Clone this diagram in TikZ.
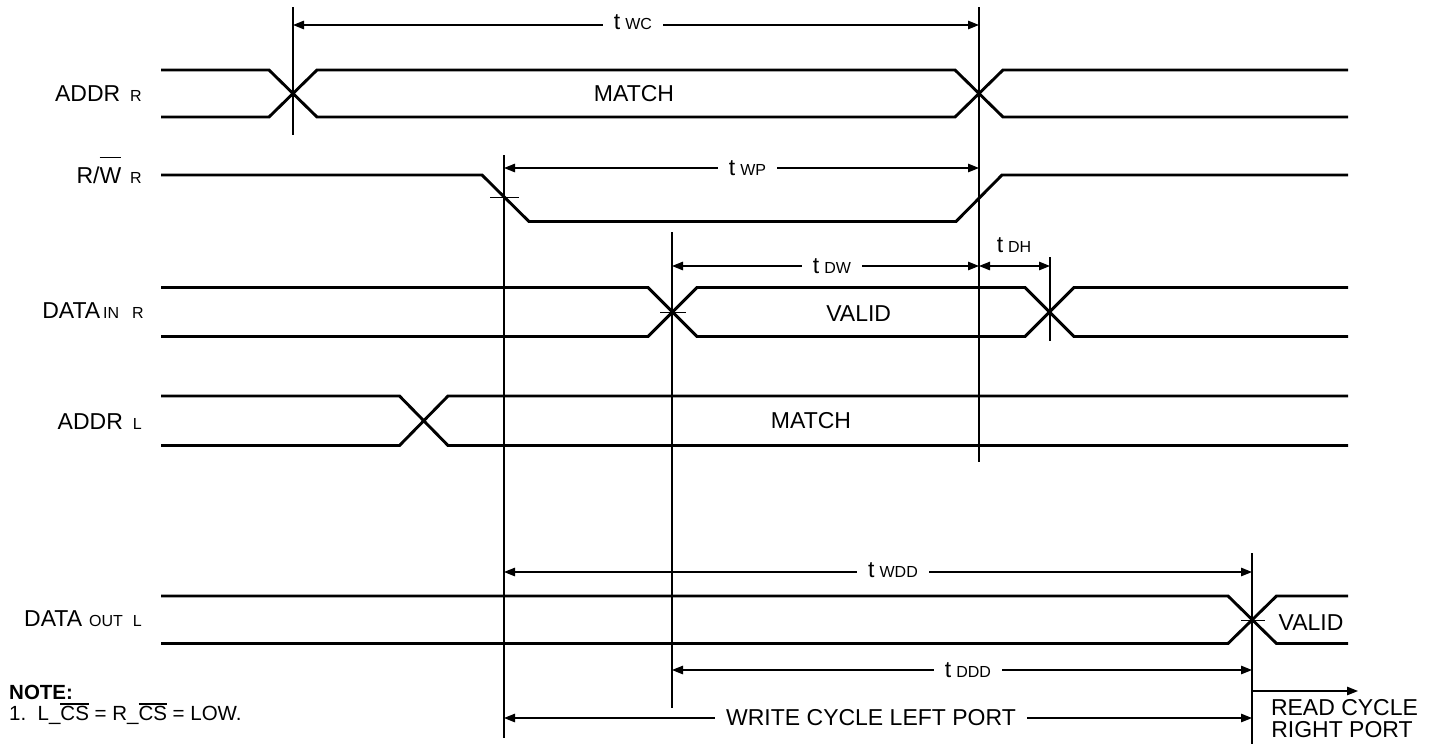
\documentclass[tikz,border=0pt]{standalone}
\usepackage{fontspec}
\setmainfont{Liberation Sans}
\usetikzlibrary{arrows.meta}
\newcommand\mainsz{\fontsize{23}{27}\selectfont}
\newcommand\subsz{\fontsize{16}{19}\selectfont}
\newcommand\notesz{\fontsize{20.5}{24}\selectfont}
\newbox\ovbox
\newcommand\ovbar[2]{\setbox\ovbox\hbox{#2}\rlap{\rule[\dimexpr\ht\ovbox+#1\relax]{\wd\ovbox}{1.3pt}}\box\ovbox}
\tikzset{
  sig/.style={line width=2.9pt, line join=miter},
  thinln/.style={line width=1.2pt},
  tickln/.style={line width=1pt},
  dimarrow/.style={line width=1.2pt, {Triangle[length=11pt,width=8.5pt]}-{Triangle[length=11pt,width=8.5pt]}},
  onearrow/.style={line width=1.2pt, -{Triangle[length=11pt,width=8.5pt]}},
  lbl/.style={anchor=base east, inner sep=0pt, font=\mainsz},
  tlab/.style={anchor=base, fill=white, inner xsep=11pt, inner ysep=1pt, font=\mainsz},
  txt/.style={anchor=base, inner sep=0pt, font=\mainsz},
}
\begin{document}
\begin{tikzpicture}[x=1pt,y=-1pt]
\useasboundingbox (0,0) rectangle (1434,744);

% ---- signals
% ADDR R
\draw[sig] (161,70) -- (269,70) -- (317,117) -- (955,117) -- (1003,70) -- (1348,70);
\draw[sig] (161,117) -- (269,117) -- (317,70) -- (955,70) -- (1003,117) -- (1348,117);
% R/W R
\draw[sig] (161,175) -- (482,175) -- (529,221.5) -- (956,221.5) -- (1002,175) -- (1348,175);
% DATA IN R
\draw[sig] (161,287.5) -- (648,287.5) -- (697,336.5) -- (1025,336.5) -- (1074,287.5) -- (1348,287.5);
\draw[sig] (161,336.5) -- (648,336.5) -- (697,287.5) -- (1025,287.5) -- (1074,336.5) -- (1348,336.5);
% ADDR L
\draw[sig] (161,396) -- (399.5,396) -- (448,445.5) -- (1348,445.5);
\draw[sig] (161,445.5) -- (399.5,445.5) -- (448,396) -- (1348,396);
% DATA OUT L
\draw[sig] (161,596) -- (1228,596) -- (1276.5,643.5) -- (1348,643.5);
\draw[sig] (161,643.5) -- (1228,643.5) -- (1276.5,596) -- (1348,596);

% ---- reference lines
\draw[thinln] (293,7) -- (293,135);
\draw[thinln] (979,7) -- (979,462);
\draw[thinln] (504,155) -- (504,738);
\draw[thinln] (672,232) -- (672,708);
\draw[thinln] (1050,257) -- (1050,341);
\draw[thinln] (1252,553) -- (1252,744);

% ---- ticks
\draw[tickln] (490,197) -- (519,197);
\draw[tickln] (660,312) -- (686,312);
\draw[tickln] (1241,620) -- (1265,620);

% ---- dimension end points
\coordinate (wcA) at (293,25);   \coordinate (wcB) at (979,25);
\coordinate (wpA) at (504,168);  \coordinate (wpB) at (979,168);
\coordinate (dwA) at (672,266);  \coordinate (dwB) at (979,266);
\coordinate (dhA) at (979,266);  \coordinate (dhB) at (1050,266);
\coordinate (wddA) at (504,572); \coordinate (wddB) at (1252,572);
\coordinate (dddA) at (672,670); \coordinate (dddB) at (1252,670);
\coordinate (wrA) at (504,718);  \coordinate (wrB) at (1252,718);
\coordinate (rdA) at (1252,691); \coordinate (rdB) at (1358,691);

\draw[dimarrow] (wcA) -- (wcB);
\draw[dimarrow] (wpA) -- (wpB);
\draw[dimarrow] (dwA) -- (dwB);
\draw[dimarrow] (dhA) -- (dhB);
\draw[dimarrow] (wddA) -- (wddB);
\draw[dimarrow] (dddA) -- (dddB);
\draw[dimarrow] (wrA) -- (wrB);
\draw[onearrow] (rdA) -- (rdB);

% ---- timing labels
\node[tlab] (twc) at (633,29.5) {t\hspace{5pt}{\subsz WC}};
\node[tlab] (twp) at (747.5,175) {t\hspace{5pt}{\subsz WP}};
\node[tlab] (tdw) at (832,273) {t\hspace{5pt}{\subsz DW}};
\node[txt] (tdh) at (1014,252) {t\hspace{5pt}{\subsz DH}};
\node[tlab] (twdd) at (893,577) {t\hspace{5pt}{\subsz WDD}};
\node[tlab] (tddd) at (968,677) {t\hspace{5pt}{\subsz DDD}};
\node[tlab] (wrcyc) at (871,725) {WRITE CYCLE LEFT PORT};
\node[txt] (rd1) at (1344.5,715) {READ CYCLE};
\node[txt] (rd2) at (1342,737) {RIGHT PORT};

% ---- bus texts
\node[txt] (m1) at (634,101.5) {MATCH};
\node[txt] (v1) at (858.7,321) {VALID};
\node[txt] (m2) at (811,428.3) {MATCH};
\node[txt] (v2) at (1311,630) {VALID};

% ---- signal names
\node[lbl] (l1) at (142,101.5) {ADDR\hspace{10pt}{\subsz R}};
\node[lbl] (l2) at (142,183) {R/\ovbar{9pt}{W}\hspace{9pt}{\subsz R}};
\node[lbl] (l3) at (144,318) {DATA\hspace{3pt}{\subsz IN}\hspace{13pt}{\subsz R}};
\node[lbl] (l4) at (142,429) {ADDR\hspace{10pt}{\subsz L}};
\node[lbl] (l5) at (142,626) {DATA\hspace{7pt}{\subsz OUT}\hspace{10pt}{\subsz L}};

% ---- note
\node[anchor=base west, inner sep=0pt, font=\notesz\bfseries] (note) at (9,699) {NOTE:};
\node[anchor=base west, inner sep=0pt, font=\notesz] (note1) at (9,720) {1.\ \ L\_\ovbar{1pt}{CS} = R\_\ovbar{1pt}{CS} = LOW.};
\end{tikzpicture}
\end{document}
